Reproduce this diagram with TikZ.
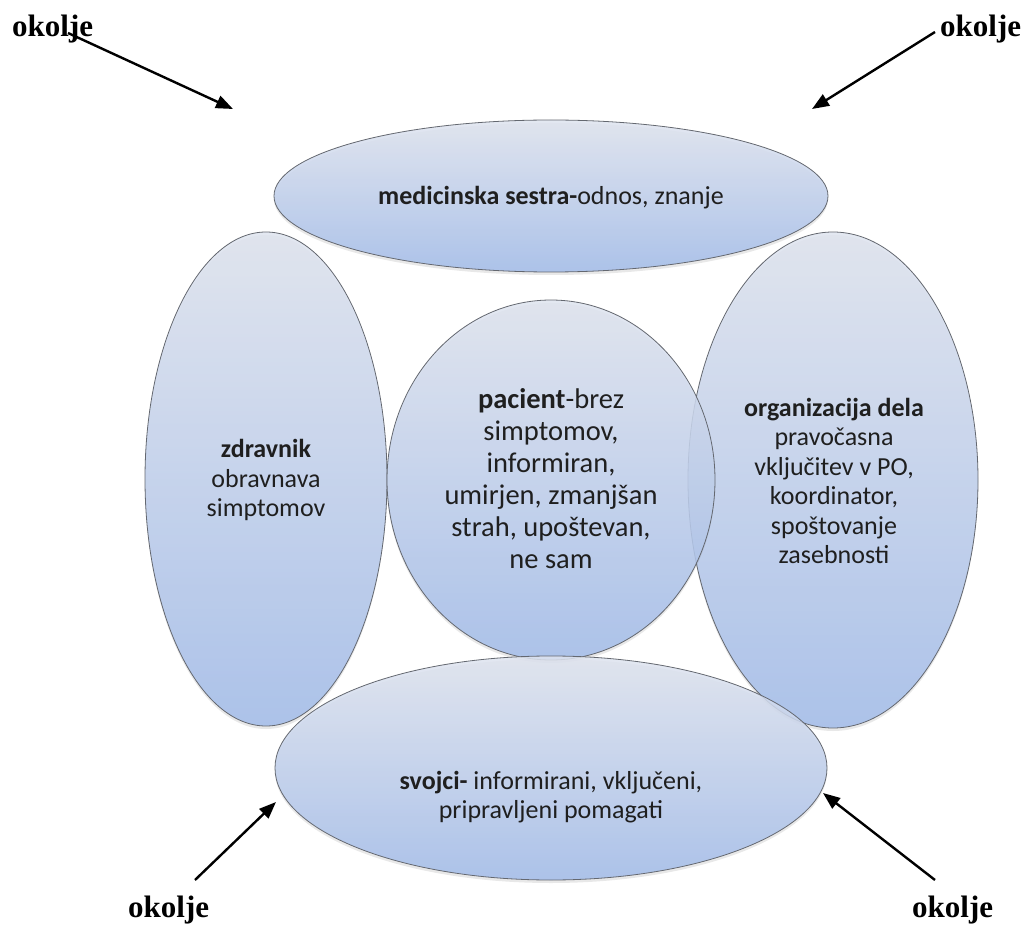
\documentclass[tikz,border=0pt]{standalone}
\usepackage{fontspec}
\setmainfont{Carlito}
\newfontfamily\okfont{Liberation Serif}
\usetikzlibrary{shapes.geometric,arrows.meta,shadows}
\definecolor{topc}{RGB}{223,228,239}
\definecolor{botc}{RGB}{162,188,234}
\definecolor{edgec}{RGB}{100,104,112}
\begin{document}
\begin{tikzpicture}[x=1pt,y=-1pt,
  blob/.style={ellipse, draw=edgec, line width=0.8pt, top color=topc, bottom color=botc,
               fill opacity=0.85, draw opacity=1, inner sep=0pt, outer sep=0pt,
               drop shadow={opacity=0.18, shadow xshift=0pt, shadow yshift=-3pt}},
  txt/.style={align=center, font=\fontsize{26}{29.5}\selectfont, text=black!88, inner sep=0pt},
  bigtxt/.style={txt, font=\fontsize{28.5}{32}\selectfont},
  ok/.style={font=\okfont\bfseries\fontsize{31}{31}\selectfont, inner sep=0pt},
  arr/.style={line width=2.4pt, -{Triangle[length=17pt,width=13pt]}}
]
\useasboundingbox (0,0) rectangle (1026,925);
\fill[white] (0,0) rectangle (1026,925);

% shapes
\node[blob, minimum width=242pt, minimum height=494pt] (zd) at (266,479) {};
\node[blob, minimum width=290pt, minimum height=496pt] (org) at (833,480) {};
\node[blob, minimum width=328pt, minimum height=360pt] (pac) at (551,480) {};
\node[blob, minimum width=554pt, minimum height=152pt] (ms) at (551,196) {};
\node[blob, minimum width=552pt, minimum height=224pt] (sv) at (551,768) {};

% texts
\node[txt] (tzd) at (266,480) {\textbf{zdravnik}\\obravnava\\simptomov};
\node[txt] (torg) at (834,481) {\textbf{organizacija dela}\\pravočasna\\vključitev v PO,\\koordinator,\\spoštovanje\\zasebnosti};
\node[bigtxt] (tpac) at (551,479) {\textbf{pacient}-brez\\simptomov,\\informiran,\\umirjen, zmanjšan\\strah, upoštevan,\\ne sam};
\node[txt] (tms) at (551,198) {\textbf{medicinska sestra-}odnos, znanje};
\node[txt] (tsv) at (551,797) {\textbf{svojci-} informirani, vključeni,\\pripravljeni pomagati};

% okolje labels
\node[ok, anchor=base west] (ok1) at (12,37) {okolje};
\node[ok, anchor=base west] (ok2) at (940,37) {okolje};
\node[ok, anchor=base west] (ok3) at (128,917) {okolje};
\node[ok, anchor=base west] (ok4) at (912,917) {okolje};

% arrows
\coordinate (s1) at (68,33);   \coordinate (e1) at (233,109);
\coordinate (s2) at (935,32);  \coordinate (e2) at (812,109);
\coordinate (s3) at (195,880); \coordinate (e3) at (276,802);
\coordinate (s4) at (935,880); \coordinate (e4) at (823,793);
\draw[arr] (s1) -- (e1);
\draw[arr] (s2) -- (e2);
\draw[arr] (s3) -- (e3);
\draw[arr] (s4) -- (e4);
\end{tikzpicture}
\end{document}
